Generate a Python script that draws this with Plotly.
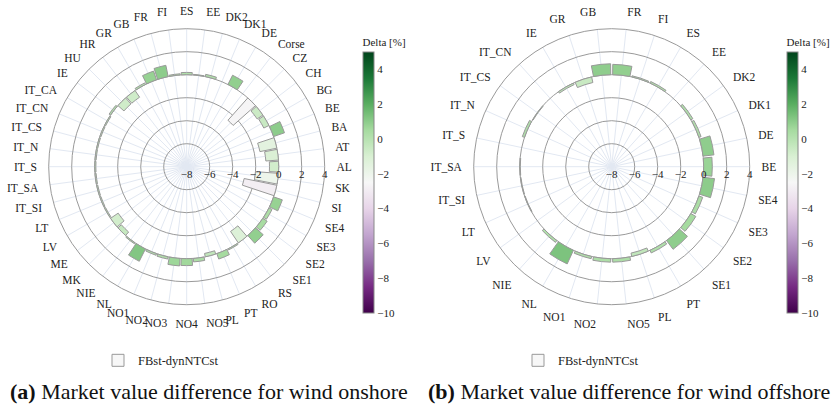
import plotly.graph_objects as go

# ---- data ----
onshore_cats = ["AL", "AT", "BA", "BE", "BG", "CH", "CZ", "Corse", "DE", "DK1", "DK2", "EE",
                "ES", "FI", "FR", "GB", "GR", "HR", "HU", "IE", "IT_CA", "IT_CN", "IT_CS",
                "IT_N", "IT_S", "IT_SA", "IT_SI", "LT", "LV", "ME", "MK", "NIE", "NL", "NO1",
                "NO2", "NO3", "NO4", "NO5", "PL", "PT", "RO", "RS", "SE1", "SE2", "SE3", "SE4",
                "SI", "SK"]
onshore_vals = [-0.8, -1.1, -1.5, 1.0, -0.5, -0.6, -2.6, 0.0, 0.9, 0.0, 0.2, 0.05,
                0.2, 0.1, 1.0, 0.8, 0.15, -0.7, -0.7, 0.15, -0.1, -0.1, -0.1,
                -0.1, -0.1, -0.1, -0.1, -0.1, -0.1, -0.8, -0.4, 0.1, 1.2, 0.15,
                0.2, 0.65, 0.6, 0.3, -0.3, 0.5, 0.1, -1.2, 0.9, 0.45, 0.3, 0.8,
                -2.9, -2.0]

offshore_cats = ["BE", "DE", "DK1", "DK2", "EE", "ES", "FI", "FR", "GB", "GR", "IE",
                 "IT_CN", "IT_CS", "IT_N", "IT_S", "IT_SA", "IT_SI", "LT", "LV", "NIE",
                 "NL", "NO1", "NO2", "NO5", "PL", "PT", "SE1", "SE2", "SE3", "SE4"]
offshore_vals = [0.75, 0.95, 0.2, 0.2, 0.0, 0.15, 0.1, 0.9, 0.95, -0.5, -0.15,
                 0.0, -0.05, 0.2, 0.0, -0.05, -0.05, -0.05, 0.0, 0.2,
                 1.3, 0.2, 0.3, 0.3, -0.3, 0.25, 0.95, 0.5, 0.35, 1.0]

series_name = "FBst-dynNTCst"
colorbar_title = "Delta [%]"
captions = ["<b>(a)</b> Market value difference for wind onshore",
            "<b>(b)</b> Market value difference for wind offshore"]

W, H = 831, 407
FONT = "Liberation Serif"
GRID = "#9a9a9a"
ANG_GRID = "#e2e8f2"


def colorbar(x_px):
    return dict(
        title=dict(text=colorbar_title, side="top", font=dict(size=11, family=FONT, color="#222")),
        x=x_px / W, xanchor="left", y=1 - 174 / H, yanchor="middle",
        len=278 / H, lenmode="fraction", thickness=11, thicknessmode="pixels",
        outlinewidth=1, outlinecolor="#888", ticks="", tick0=-10, dtick=2,
        tickfont=dict(size=11, family=FONT, color="#222"), xpad=0, ypad=0,
    )


fig = go.Figure()
fig.add_trace(go.Barpolar(
    r=onshore_vals, theta=onshore_cats, subplot="polar", name=series_name,
    legend="legend", showlegend=True,
    marker=dict(color=onshore_vals, colorscale="PRGn", cmin=-10, cmax=5, showscale=True,
                line=dict(color="#999999", width=1), colorbar=colorbar(363)),
))
fig.add_trace(go.Barpolar(
    r=offshore_vals, theta=offshore_cats, subplot="polar2", name=series_name,
    legend="legend2", showlegend=True,
    marker=dict(color=offshore_vals, colorscale="PRGn", cmin=-10, cmax=5, showscale=True,
                line=dict(color="#999999", width=1), colorbar=colorbar(787)),
))


def polar(cx_px, cats):
    r = 138
    return dict(
        domain=dict(x=[(cx_px - r) / W, (cx_px + r) / W],
                    y=[1 - (166.7 + r) / H, 1 - (166.7 - r) / H]),
        bgcolor="white", bargap=0.1,
        radialaxis=dict(range=[-8, 4], tick0=0, dtick=2, angle=0, showline=False, ticks="",
                        gridcolor=GRID, gridwidth=1,
                        tickfont=dict(size=11, family=FONT, color="#222")),
        angularaxis=dict(type="category", categoryorder="array", categoryarray=cats,
                         direction="counterclockwise", rotation=0, dtick=1,
                         gridcolor=ANG_GRID, showline=True, linecolor=GRID, linewidth=1,
                         ticks="outside", ticklen=9, tickcolor="rgba(0,0,0,0)",
                         tickfont=dict(size=11.5, family=FONT, color="#222")),
    )


fig.update_layout(
    width=W, height=H, autosize=False,
    margin=dict(l=0, r=0, t=0, b=0),
    paper_bgcolor="white", plot_bgcolor="white",
    font=dict(family=FONT, color="#222"),
    polar=polar(186.7, onshore_cats),
    polar2=polar(611.7, offshore_cats),
    legend=dict(x=98 / W, y=1 - 360.7 / H, xanchor="left", yanchor="middle",
                font=dict(size=12.5, family=FONT, color="#222"), bgcolor="rgba(0,0,0,0)"),
    legend2=dict(x=518 / W, y=1 - 360.7 / H, xanchor="left", yanchor="middle",
                 font=dict(size=12.5, family=FONT, color="#222"), bgcolor="rgba(0,0,0,0)"),
    annotations=[
        dict(text=captions[0], x=209 / W, y=1 - 391.7 / H, xref="paper", yref="paper",
             xanchor="center", yanchor="middle", showarrow=False,
             font=dict(size=22, family=FONT, color="#111")),
        dict(text=captions[1], x=629 / W, y=1 - 391.7 / H, xref="paper", yref="paper",
             xanchor="center", yanchor="middle", showarrow=False,
             font=dict(size=22, family=FONT, color="#111")),
    ],
)

fig.write_html("out.html")
